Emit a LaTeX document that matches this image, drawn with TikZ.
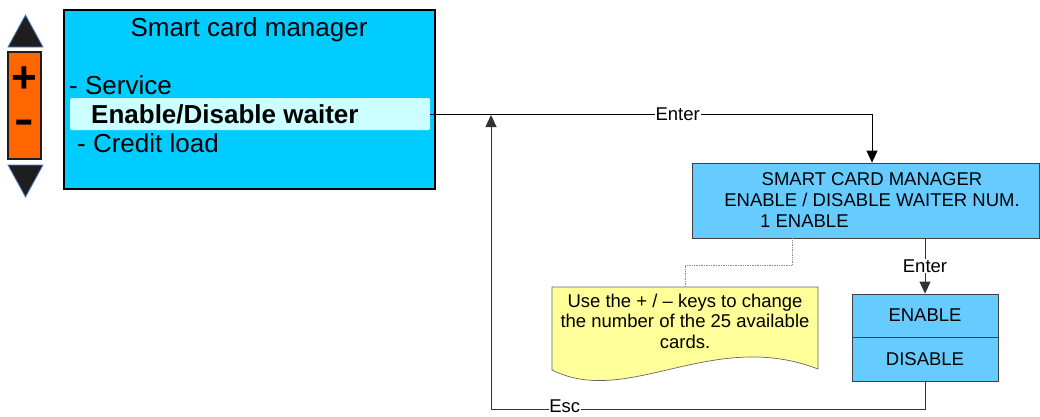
\documentclass[tikz,border=0pt]{standalone}
\usepackage{fontspec}
\setmainfont{Liberation Sans}
\usetikzlibrary{arrows.meta}
\definecolor{mainblue}{HTML}{00CCFF}
\definecolor{hlcyan}{HTML}{CCFFFF}
\definecolor{boxblue}{HTML}{66CCFF}
\definecolor{noteyellow}{HTML}{FFFF99}
\definecolor{keyorange}{HTML}{FF6600}
\definecolor{keydark}{HTML}{1E1E1E}
\definecolor{keyedge}{HTML}{4F7FC0}
\tikzset{
  bigtxt/.style={inner sep=0pt, font=\fontsize{26}{30}\selectfont},
  smalltxt/.style={inner sep=0pt, font=\fontsize{18.5}{21}\selectfont},
  flowbox/.style={draw=black!75, line width=0.8pt, fill=boxblue, inner sep=0pt},
  conn/.style={line width=0.9pt, draw=black},
  tip/.style={-{Triangle[length=12pt,width=11pt]}},
  lbl/.style={fill=white, inner sep=1pt, font=\fontsize{18.5}{21}\selectfont},
}
\begin{document}
\begin{tikzpicture}[x=1pt,y=-1pt]
\useasboundingbox (0,0) rectangle (1040,416);

% key panel
\fill[keydark, draw=keyedge, line width=0.8pt] (8,47) -- (25.5,15) -- (43,47) -- cycle;
\node[draw=keydark, fill=keyorange, line width=2pt, minimum width=33pt, minimum height=107pt, inner sep=0pt] (keys) at (24.5,105.5) {};
\node[inner sep=0pt, font=\bfseries\fontsize{44}{44}\selectfont] (plus) at (24.5,80) {+};
\node[inner sep=0pt, font=\bfseries\fontsize{42}{42}\selectfont, xscale=1.4] (minus) at (24.5,127) {-};
\fill[keydark, draw=keyedge, line width=0.8pt] (8,165) -- (25.5,197) -- (43,165) -- cycle;

% main screen
\node[draw=black, fill=mainblue, line width=2.5pt, minimum width=371pt, minimum height=179pt, inner sep=0pt] (main) at (249.5,99.5) {};
\node[bigtxt, anchor=base] (title) at (249,36) {Smart card manager};
\node[bigtxt, anchor=base west] (service) at (69,94) {- Service};
\node[fill=hlcyan, rounded corners=1.5pt, minimum width=360pt, minimum height=32pt, inner sep=0pt] (hl) at (250,114) {};
\node[bigtxt, anchor=base west, font=\bfseries\fontsize{26}{30}\selectfont] (waiter) at (91,123) {Enable/Disable waiter};
\node[bigtxt, anchor=base west] (credit) at (77,152) {- Credit load};

% smart card manager box
\node[flowbox, minimum width=347pt, minimum height=75pt] (smart) at (865.5,200.5) {};
\node[smalltxt, anchor=base] (s1) at (872,185) {SMART CARD MANAGER};
\node[smalltxt, anchor=base] (s2) at (872,206) {ENABLE / DISABLE WAITER NUM.};
\node[smalltxt, anchor=base west] (s3) at (760,227) {1 ENABLE};

% enable / disable box
\node[flowbox, minimum width=146pt, minimum height=43pt] (en) at (925,315.5) {};
\node[flowbox, minimum width=146pt, minimum height=44pt] (dis) at (925,359) {};
\node[smalltxt, anchor=base] (ent) at (925,321) {ENABLE};
\node[smalltxt, anchor=base] (dist) at (925,365) {DISABLE};

% note
\path[fill=noteyellow, draw=black!60, line width=0.7pt]
  (552,287) -- (818,287) -- (818,369) .. controls (712,328) and (628,408) .. (552,370) -- cycle;
\coordinate (notetop) at (685,287);
\node[smalltxt, anchor=base] (n1) at (685,307) {Use the + / – keys to change};
\node[smalltxt, anchor=base] (n2) at (685,327) {the number of the 25 available};
\node[smalltxt, anchor=base] (n3) at (685,348) {cards.};

% connectors
\coordinate (enterturn) at (872,114);
\draw[conn, tip] (hl.east) -- node[lbl, pos=0.56] {Enter} (enterturn) -- (smart.north -| enterturn);
\draw[draw=black!45, line width=0.7pt, densely dotted] (smart.south -| 792,0) |- (685,265) -- (notetop);
\draw[conn, draw=black!80, tip] (smart.south -| en.north) -- node[lbl] {Enter} (en.north);
\coordinate (escturn) at (925,409);
\coordinate (escleft) at (491,409);
\coordinate (escup) at (491,115);
\draw[conn, draw=black!80, tip] (dis.south) -- (escturn) -- node[lbl, pos=0.83, inner sep=0.5pt, yshift=2.5pt] {Esc} (escleft) -- (escup);
\end{tikzpicture}
\end{document}
